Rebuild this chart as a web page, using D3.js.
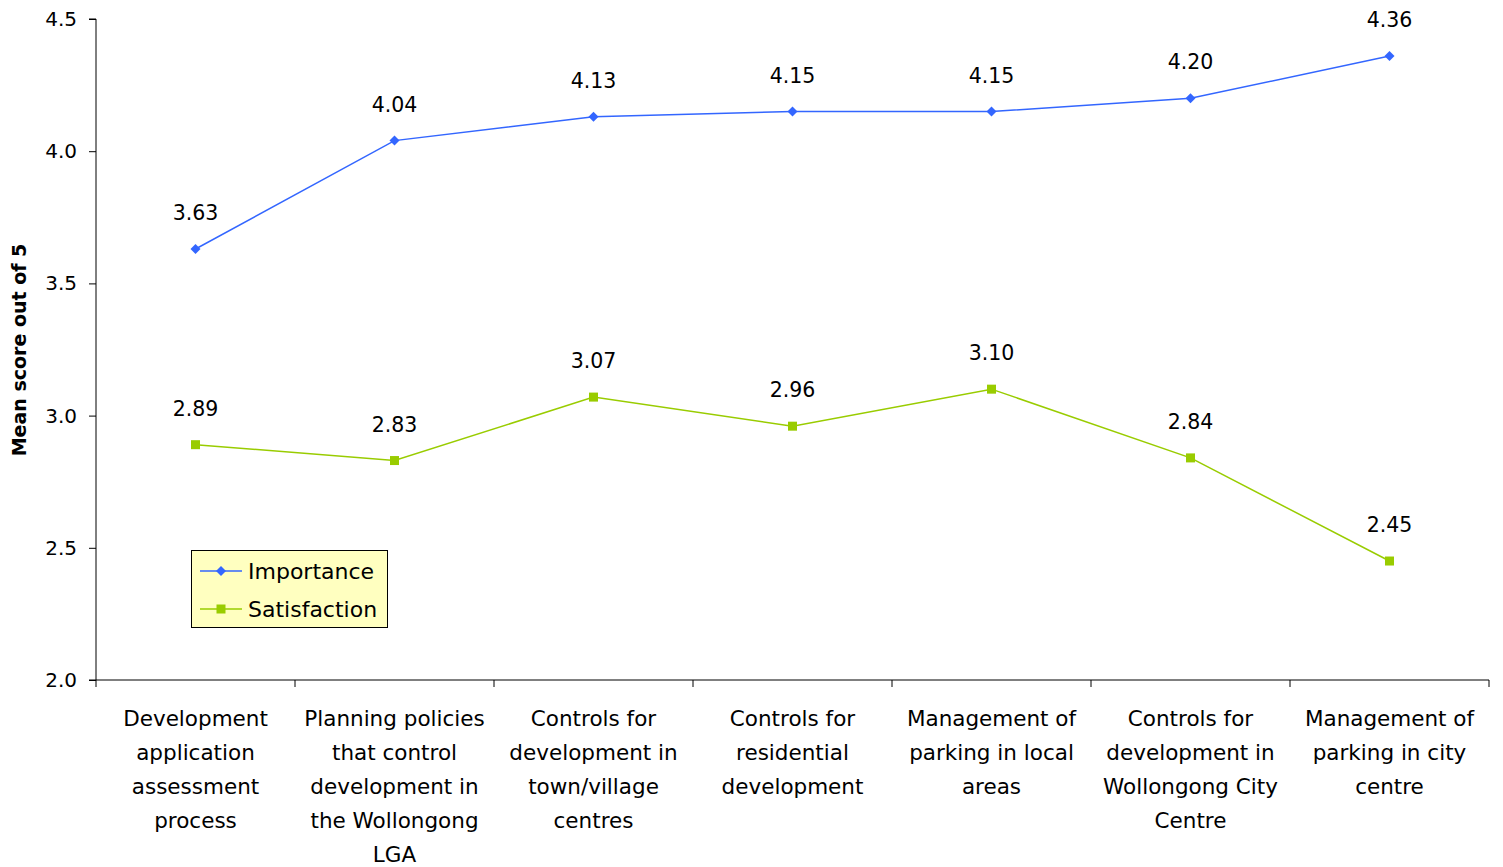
<!DOCTYPE html>
<html><head><meta charset="utf-8">
<script src="https://d3js.org/d3.v7.min.js"></script>
<style>body{margin:0;background:#fff}svg{display:block}text{font-family:"DejaVu Sans",sans-serif}</style>
</head><body>
<svg id="c" width="1503" height="867"></svg>
<script>
const categories = [
  ["Development","application","assessment","process"],
  ["Planning policies","that control","development in","the Wollongong","LGA"],
  ["Controls for","development in","town/village","centres"],
  ["Controls for","residential","development"],
  ["Management of","parking in local","areas"],
  ["Controls for","development in","Wollongong City","Centre"],
  ["Management of","parking in city","centre"]
];
const importance = [3.63, 4.04, 4.13, 4.15, 4.15, 4.20, 4.36];
const satisfaction = [2.89, 2.83, 3.07, 2.96, 3.10, 2.84, 2.45];
const yTicks = [2.0, 2.5, 3.0, 3.5, 4.0, 4.5];
const seriesNames = ["Importance", "Satisfaction"];

(function(){
const svg = d3.select("#c");
const pl = 96, pr = 1489, pt = 19, pb = 680;
const x = d3.scaleBand().domain(d3.range(categories.length)).range([pl, pr]);
const y = d3.scaleLinear().domain([2.0, 4.5]).range([pb, pt]);
const cx = i => x(i) + x.bandwidth() / 2;
const diamond = d3.symbol(d3.symbolSquare, 50)();

// Y axis
const ya = svg.append("g").attr("transform", `translate(${pl},0)`)
  .call(d3.axisLeft(y).tickValues(yTicks).tickFormat(d3.format(".1f")).tickSize(7).tickPadding(12));
ya.select(".domain").attr("stroke", "#000").attr("d", `M-7,${pt}H0V${pb}H-7`);
ya.selectAll(".tick line").attr("stroke", "#000");
ya.selectAll(".tick text").attr("font-size", 20).attr("fill", "#000").attr("font-family", "DejaVu Sans");

// X axis
const xa = svg.append("g").attr("transform", `translate(0,${pb})`);
xa.append("line").attr("x1", pl).attr("x2", pr).attr("stroke", "#000");
const bounds = d3.range(categories.length + 1).map(i => i < categories.length ? x(i) : pr);
xa.selectAll("line.t").data(bounds).enter().append("line").attr("class", "t")
  .attr("x1", d => d).attr("x2", d => d).attr("y1", 0).attr("y2", 7).attr("stroke", "#000");
categories.forEach((lines, i) => {
  const t = xa.append("text").attr("text-anchor", "middle").attr("font-size", 21.5).attr("fill", "#000");
  lines.forEach((l, j) => t.append("tspan").attr("x", cx(i)).attr("y", 46 + j * 34).text(l));
});

// Y title
svg.append("text").attr("transform", "translate(26,350) rotate(-90)")
  .attr("text-anchor", "middle").attr("font-size", 19).attr("font-weight", "bold").text("Mean score out of 5");

const colors = ["#3366ff", "#99cc00"];
const data = [importance, satisfaction];
const line = d3.line().x((d, i) => cx(i)).y(d => y(d));
data.forEach((vals, s) => {
  svg.append("path").datum(vals).attr("d", line).attr("fill", "none").attr("stroke", colors[s]).attr("stroke-width", 1.5);
  const g = svg.append("g");
  vals.forEach((v, i) => {
    if (s === 0) {
      g.append("path").attr("d", diamond).attr("transform", `translate(${cx(i)},${y(v)}) rotate(45)`).attr("fill", colors[s]);
    } else {
      g.append("rect").attr("x", cx(i) - 4.5).attr("y", y(v) - 4.5).attr("width", 9).attr("height", 9).attr("fill", colors[s]);
    }
    svg.append("text").attr("x", cx(i)).attr("y", y(v) - 29).attr("text-anchor", "middle")
      .attr("font-size", 20.5).attr("fill", "#000").text(v.toFixed(2));
  });
});

// Legend
const lg = svg.append("g").attr("transform", "translate(191,550)");
lg.append("rect").attr("x", 0.5).attr("y", 0.5).attr("width", 196).attr("height", 77).attr("fill", "#ffffc0").attr("stroke", "#000");
seriesNames.forEach((n, s) => {
  const yy = 21 + s * 38;
  lg.append("line").attr("x1", 9).attr("x2", 51).attr("y1", yy).attr("y2", yy).attr("stroke", colors[s]).attr("stroke-width", 1.5);
  if (s === 0) lg.append("path").attr("d", diamond).attr("transform", `translate(30,${yy}) rotate(45)`).attr("fill", colors[s]);
  else lg.append("rect").attr("x", 25.5).attr("y", yy - 4.5).attr("width", 9).attr("height", 9).attr("fill", colors[s]);
  lg.append("text").attr("x", 57).attr("y", yy + 8).attr("font-size", 22).attr("fill", "#000").text(n);
});
})();
</script>
</body></html>
